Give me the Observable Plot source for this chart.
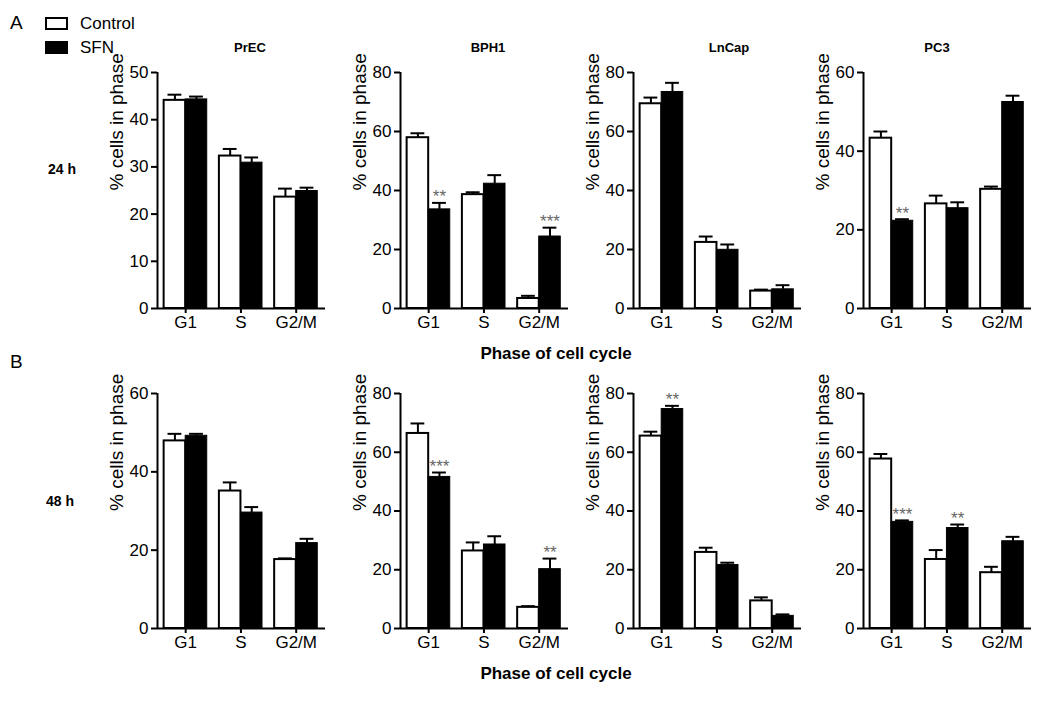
<!DOCTYPE html>
<html>
<head>
<meta charset="utf-8">
<script src="https://cdn.jsdelivr.net/npm/d3@7"></script>
<script src="https://cdn.jsdelivr.net/npm/@observablehq/plot@0.6"></script>
<style>
  html, body { margin: 0; padding: 0; background: white; }
  #root { position: relative; width: 1050px; height: 702px; overflow: hidden; font-family: Arial, "Liberation Sans", sans-serif; color: #000; }
  .abs { position: absolute; white-space: nowrap; line-height: 1; }
  .panel { position: absolute; }
  .title { font-weight: bold; font-size: 13px; transform: translate(-50%, -50%); }
  .xlab { font-weight: bold; font-size: 17px; transform: translate(-50%, -50%); }
  .time { font-weight: bold; font-size: 14px; transform: translateY(-50%); }
</style>
</head>
<body>
<div id="root"></div>
<script>
// ---- Data ----
const phases = ["G1", "S", "G2/M"];
const cellLines = ["PrEC", "BPH1", "LnCap", "PC3"];
const times = ["24 h", "48 h"];
const treatments = ["Control", "SFN"];

// 24 h (one inner array per cell line, values for G1, S, G2/M)
const control24    = [[44.1, 32.3, 23.6], [57.9, 38.6, 3.4], [69.4, 22.4, 5.9], [43.3, 26.6, 30.3]];
const control24Err = [[1.2, 1.5, 1.8],    [1.5, 0.8, 0.9],   [2.1, 2.0, 0.5],   [1.7, 2.1, 0.7]];
const sfn24        = [[44.3, 30.9, 24.9], [33.6, 42.3, 24.4], [73.4, 19.9, 6.5], [22.3, 25.5, 52.5]];
const sfn24Err     = [[0.6, 1.1, 0.7],    [2.2, 2.9, 3.0],   [3.1, 1.8, 1.4],   [0.4, 1.5, 1.6]];
const stars24      = [["", "", ""], ["**", "", "***"], ["", "", ""], ["**", "", ""]];
const yMax24  = [50, 80, 80, 60];
const yStep24 = [10, 20, 20, 20];

// 48 h
const control48    = [[47.9, 35.1, 17.6], [66.4, 26.4, 7.2], [65.5, 25.9, 9.4], [57.7, 23.5, 19.0]];
const control48Err = [[1.8, 2.2, 0.3],    [3.4, 2.9, 0.4],   [1.5, 1.6, 1.2],   [1.7, 3.2, 2.0]];
const sfn48        = [[49.2, 29.6, 21.8], [51.6, 28.6, 20.2], [74.7, 21.6, 4.3], [36.3, 34.2, 29.7]];
const sfn48Err     = [[0.5, 1.4, 1.1],    [1.5, 2.8, 3.6],   [1.1, 0.8, 0.5],   [0.5, 1.2, 1.5]];
const stars48      = [["", "", ""], ["***", "", "**"], ["**", "", ""], ["***", "**", ""]];
const yMax48  = [60, 80, 80, 80];
const yStep48 = [20, 20, 20, 20];

// ---- Layout ----
const FONT = 'Arial, "Liberation Sans", sans-serif';
const axisLeft = [157, 400, 633, 863];
const rowTop = [0, 320];
const rowMarginTop = [72, 73];
const titleX = [250, 488, 729, 937];
const BW = 0.39;
const XDOM = [-0.51, 2.53];

const root = document.getElementById("root");

function addText(txt, cls, x, y) {
  const d = document.createElement("div");
  d.className = "abs " + cls;
  d.style.left = x + "px";
  d.style.top = y + "px";
  d.textContent = txt;
  root.appendChild(d);
  return d;
}

function panel(ci, row) {
  const ctrl = row === 0 ? control24 : control48;
  const ctrlE = row === 0 ? control24Err : control48Err;
  const sfn = row === 0 ? sfn24 : sfn48;
  const sfnE = row === 0 ? sfn24Err : sfn48Err;
  const stars = row === 0 ? stars24 : stars48;
  const yMax = (row === 0 ? yMax24 : yMax48)[ci];
  const yStep = (row === 0 ? yStep24 : yStep48)[ci];
  const data = phases.map((p, i) => ({
    i, phase: p,
    c: ctrl[ci][i], ce: ctrlE[ci][i],
    s: sfn[ci][i], se: sfnE[ci][i],
    star: stars[ci][i]
  }));
  const chart = Plot.plot({
    width: 234, height: 348,
    marginLeft: 60, marginRight: 6, marginTop: rowMarginTop[row], marginBottom: 40,
    style: { background: "transparent", fontFamily: FONT, fontSize: "17px", color: "#000", overflow: "visible" },
    x: { domain: XDOM, axis: null },
    y: { domain: [0, yMax], axis: null },
    marks: [
      Plot.rect(data, { x1: d => d.i - BW, x2: d => d.i, y1: 0, y2: "c", fill: "white", stroke: "black", strokeWidth: 2 }),
      Plot.rect(data, { x1: d => d.i, x2: d => d.i + BW, y1: 0, y2: "s", fill: "black", stroke: "black", strokeWidth: 1 }),
      Plot.ruleX(data, { x: d => d.i - BW / 2, y1: "c", y2: d => d.c + d.ce, stroke: "black", strokeWidth: 2 }),
      Plot.ruleY(data, { y: d => d.c + d.ce, x1: d => d.i - BW / 2 - 0.125, x2: d => d.i - BW / 2 + 0.125, stroke: "black", strokeWidth: 2 }),
      Plot.ruleX(data, { x: d => d.i + BW / 2, y1: "s", y2: d => d.s + d.se, stroke: "black", strokeWidth: 2 }),
      Plot.ruleY(data, { y: d => d.s + d.se, x1: d => d.i + BW / 2 - 0.125, x2: d => d.i + BW / 2 + 0.125, stroke: "black", strokeWidth: 2 }),
      Plot.text(data.filter(d => d.star), { x: d => d.i + BW / 2, y: d => d.s + d.se, text: "star", dy: -6, fill: "#666", fontSize: 17 }),
      Plot.axisY({ ticks: d3.range(0, yMax + 1, yStep), tickSize: 6, tickPadding: 3, label: null, strokeWidth: 2, fontSize: 17 }),
      Plot.axisX({ ticks: [0, 1, 2], tickFormat: i => phases[i], tickSize: 5, tickPadding: 2, label: null, strokeWidth: 2, fontSize: 17 }),
      Plot.ruleY([0], { stroke: "black", strokeWidth: 2 }),
      Plot.ruleX([XDOM[0]], { stroke: "black", strokeWidth: 2 }),
      Plot.text(["% cells in phase"], { frameAnchor: "left", dx: -41, rotate: -90, fontSize: 19 })
    ]
  });
  const wrap = document.createElement("div");
  wrap.className = "panel";
  wrap.style.left = (axisLeft[ci] - 60) + "px";
  wrap.style.top = rowTop[row] + "px";
  wrap.appendChild(chart);
  root.appendChild(wrap);
}

for (let row = 0; row < 2; row++) {
  for (let ci = 0; ci < 4; ci++) panel(ci, row);
}

// Titles
cellLines.forEach((name, ci) => addText(name, "title", titleX[ci], 47));
addText("Phase of cell cycle", "xlab", 556, 353);
addText("Phase of cell cycle", "xlab", 556, 673);
addText(times[0], "time", 48, 169);
addText(times[1], "time", 46, 501);

// Panel letters
const a = addText("A", "", 10, 13); a.style.fontSize = "19px";
const b = addText("B", "", 10, 352); b.style.fontSize = "19px";

// Legend
function legendItem(label, fill, y) {
  const box = document.createElement("div");
  box.style.cssText = `position:absolute;left:45px;top:${y - 6}px;width:19px;height:9px;border:2px solid #000;background:${fill};`;
  root.appendChild(box);
  const t = addText(label, "", 80, y);
  t.style.fontSize = "17px";
  t.style.transform = "translateY(-50%)";
}
legendItem(treatments[0], "white", 23);
legendItem(treatments[1], "black", 47);
</script>
</body>
</html>
